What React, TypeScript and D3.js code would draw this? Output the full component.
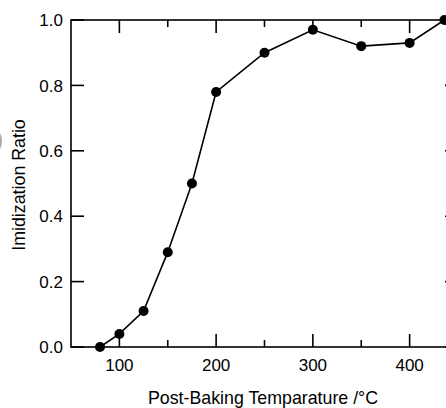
import { useEffect, useRef } from 'react'
import * as d3 from 'd3'

// post-baking temperature (°C) vs imidization ratio
const temps = [80, 100, 125, 150, 175, 200, 250, 300, 350, 400, 436]
const ratios = [0.0, 0.04, 0.11, 0.29, 0.5, 0.78, 0.9, 0.97, 0.92, 0.93, 1.0]
const xMajor = [100, 200, 300, 400]
const xMinor = [150, 250, 350]
const yMajor = [0.0, 0.2, 0.4, 0.6, 0.8, 1.0]

const App = () => {
  const ref = useRef<SVGSVGElement>(null)

  useEffect(() => {
    const svg = d3.select(ref.current)
    svg.selectAll('*').remove()

    const width = 446, height = 408
    const margin = { top: 20, right: -12, bottom: 61, left: 71 }
    const font = 'Liberation Sans, Arial, sans-serif'

    const x = d3.scaleLinear()
      .domain([50, 450])
      .range([margin.left, width - margin.right])
    const y = d3.scaleLinear()
      .domain([0, 1])
      .range([height - margin.bottom, margin.top])

    const x0 = x.range()[0], x1 = x.range()[1]
    const y0 = y.range()[0], y1 = y.range()[1]

    // frame
    svg.append('rect')
      .attr('x', x0).attr('y', y1)
      .attr('width', x1 - x0).attr('height', y0 - y1)
      .attr('fill', 'none')
      .attr('stroke', '#000')
      .attr('stroke-width', 1.6)

    const ticks = svg.append('g')
      .attr('stroke', '#000')
      .attr('stroke-width', 1.6)

    // bottom + top ticks, pointing inward
    xMajor.concat(xMinor).forEach(t => {
      const len = xMajor.includes(t) ? 13 : 7
      ticks.append('line')
        .attr('x1', x(t)).attr('x2', x(t))
        .attr('y1', y0).attr('y2', y0 - len)
      ticks.append('line')
        .attr('x1', x(t)).attr('x2', x(t))
        .attr('y1', y1).attr('y2', y1 + len)
    })

    // left + right ticks
    yMajor.forEach(t => {
      ticks.append('line')
        .attr('x1', x0).attr('x2', x0 + 13)
        .attr('y1', y(t)).attr('y2', y(t))
      ticks.append('line')
        .attr('x1', x1).attr('x2', x1 - 13)
        .attr('y1', y(t)).attr('y2', y(t))
    })

    svg.append('g')
      .selectAll('text')
      .data(xMajor)
      .enter().append('text')
      .attr('x', d => x(d))
      .attr('y', y0 + 24)
      .attr('text-anchor', 'middle')
      .style('font-family', font)
      .style('font-size', '17px')
      .text(d => d)

    svg.append('g')
      .selectAll('text')
      .data(yMajor)
      .enter().append('text')
      .attr('x', x0 - 8)
      .attr('y', d => y(d))
      .attr('dy', '0.36em')
      .attr('text-anchor', 'end')
      .style('font-family', font)
      .style('font-size', '17px')
      .text(d => d.toFixed(1))

    svg.append('text')
      .attr('x', 263)
      .attr('y', 404)
      .attr('text-anchor', 'middle')
      .style('font-family', font)
      .style('font-size', '17.8px')
      .text('Post-Baking Temparature /°C')

    svg.append('text')
      .attr('transform', `translate(25,185) rotate(-90)`)
      .attr('text-anchor', 'middle')
      .style('font-family', font)
      .style('font-size', '17.8px')
      .text('Imidization Ratio')

    // clipped panel mark at the far left
    svg.append('ellipse')
      .attr('cx', -3).attr('cy', 141)
      .attr('rx', 5).attr('ry', 10)
      .attr('fill', '#aaa')

    const pts = temps.map((t, i) => [t, ratios[i]] as [number, number])

    svg.append('path')
      .datum(pts)
      .attr('d', d3.line<[number, number]>().x(d => x(d[0])).y(d => y(d[1])))
      .attr('fill', 'none')
      .attr('stroke', '#000')
      .attr('stroke-width', 1.6)

    svg.append('g')
      .selectAll('circle')
      .data(pts)
      .enter().append('circle')
      .attr('cx', d => x(d[0]))
      .attr('cy', d => y(d[1]))
      .attr('r', 5)
      .attr('fill', '#000')
  }, [])

  return (
    <svg
      ref={ref}
      width={446}
      height={408}
      style={{ position: 'absolute', left: 0, top: 0, background: '#fff' }}
    />
  )
}

export default App
